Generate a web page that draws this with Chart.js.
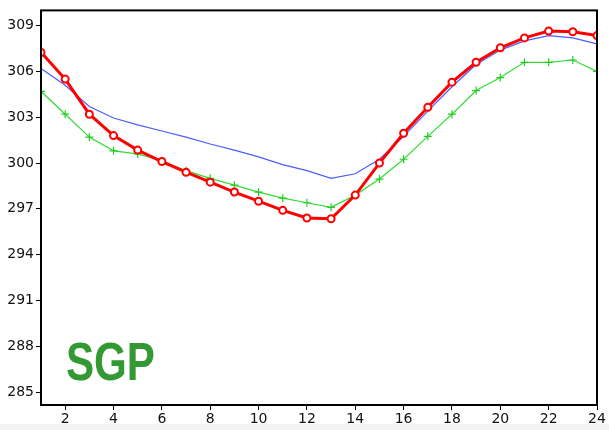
<!DOCTYPE html>
<html>
<head>
<meta charset="utf-8">
<script src="https://cdn.jsdelivr.net/npm/chart.js@4/dist/chart.umd.min.js"></script>
<style>
  body { margin: 0; background: #f4f4f4; }
  #wrap { width: 609px; height: 424px; background: #fff; }
</style>
</head>
<body>
<div id="wrap"><canvas id="graphic" width="609" height="424"></canvas></div>
<script>
var hours = [1,2,3,4,5,6,7,8,9,10,11,12,13,14,15,16,17,18,19,20,21,22,23,24];
var redValues = [307.25,305.5,303.2,301.8,300.85,300.1,299.4,298.75,298.1,297.5,296.9,296.4,296.35,297.9,300.0,301.95,303.65,305.3,306.6,307.55,308.2,308.65,308.6,308.35];
var blueValues = [306.2,305.1,303.7,302.95,302.5,302.1,301.7,301.25,300.85,300.4,299.9,299.5,299.0,299.3,300.25,301.75,303.4,305.0,306.45,307.4,308.0,308.35,308.2,307.8];
var greenValues = [304.7,303.2,301.7,300.8,300.6,300.15,299.5,299.0,298.55,298.1,297.7,297.4,297.1,297.9,298.95,300.25,301.75,303.2,304.75,305.6,306.6,306.6,306.75,306.0];
var xTicks = [2,4,6,8,10,12,14,16,18,20,22,24];
var yTicks = [285,288,291,294,297,300,303,306,309];
var stationName = 'SGP';

function toPoints(vals) {
    return vals.map(function (v, i) { return { x: hours[i], y: v }; });
}

var ctx = document.getElementById('graphic');

var boxPlugin = {
    id: 'box',
    afterDatasetsDraw: function (chart) {
        var c = chart.ctx, a = chart.chartArea;
        c.save();
        c.strokeStyle = '#000';
        c.lineWidth = 2;
        c.strokeRect(a.left, a.top, a.right - a.left, a.bottom - a.top);
        c.fillStyle = '#339933';
        c.font = 'bold 54px "Liberation Sans", sans-serif';
        c.textBaseline = 'alphabetic';
        c.translate(66, 380);
        c.scale(0.78, 1);
        c.fillText(stationName, 0, 0);
        c.restore();
    }
};

var chartGraph = new Chart(ctx, {
    type: 'line',
    data: {
        datasets: [{
            label: 'red',
            data: toPoints(redValues),
            borderColor: '#ff0000',
            borderWidth: 3,
            pointStyle: 'circle',
            pointRadius: 3.5,
            pointBorderWidth: 2,
            pointBackgroundColor: '#ffffff',
            pointBorderColor: '#ff0000',
            tension: 0,
            clip: 0,
            order: 1
        }, {
            label: 'blue',
            data: toPoints(blueValues),
            borderColor: '#4c5cff',
            borderWidth: 1.2,
            pointRadius: 0,
            tension: 0,
            clip: 0,
            order: 2
        }, {
            label: 'green',
            data: toPoints(greenValues),
            borderColor: '#33dd33',
            borderWidth: 1.2,
            pointStyle: 'cross',
            pointRadius: 4,
            pointBorderWidth: 1.2,
            pointBorderColor: '#22cc22',
            tension: 0,
            clip: 0,
            order: 3
        }]
    },
    options: {
        responsive: false,
        animation: false,
        layout: { padding: { top: 9, right: 12, left: 0, bottom: 0 } },
        plugins: { legend: { display: false }, tooltip: { enabled: false } },
        scales: {
            x: {
                type: 'linear',
                min: 1,
                max: 24,
                afterBuildTicks: function (axis) {
                    axis.ticks = xTicks.map(function (v) { return { value: v }; });
                },
                afterFit: function (axis) { axis.height = 19; },
                ticks: { color: '#111', font: { family: 'DejaVu Sans', size: 14 }, padding: 1, maxRotation: 0 },
                grid: { drawOnChartArea: false, drawTicks: true, tickLength: 5, color: '#000', lineWidth: 1 },
                border: { display: false }
            },
            y: {
                min: 284.15,
                max: 310,
                afterBuildTicks: function (axis) {
                    axis.ticks = yTicks.map(function (v) { return { value: v }; });
                },
                afterFit: function (axis) { axis.width = 41; },
                ticks: { color: '#111', font: { family: 'DejaVu Sans', size: 14 }, padding: 2 },
                grid: { drawOnChartArea: false, drawTicks: true, tickLength: 5, color: '#000', lineWidth: 1 },
                border: { display: false }
            }
        }
    },
    plugins: [boxPlugin]
});
</script>
</body>
</html>
